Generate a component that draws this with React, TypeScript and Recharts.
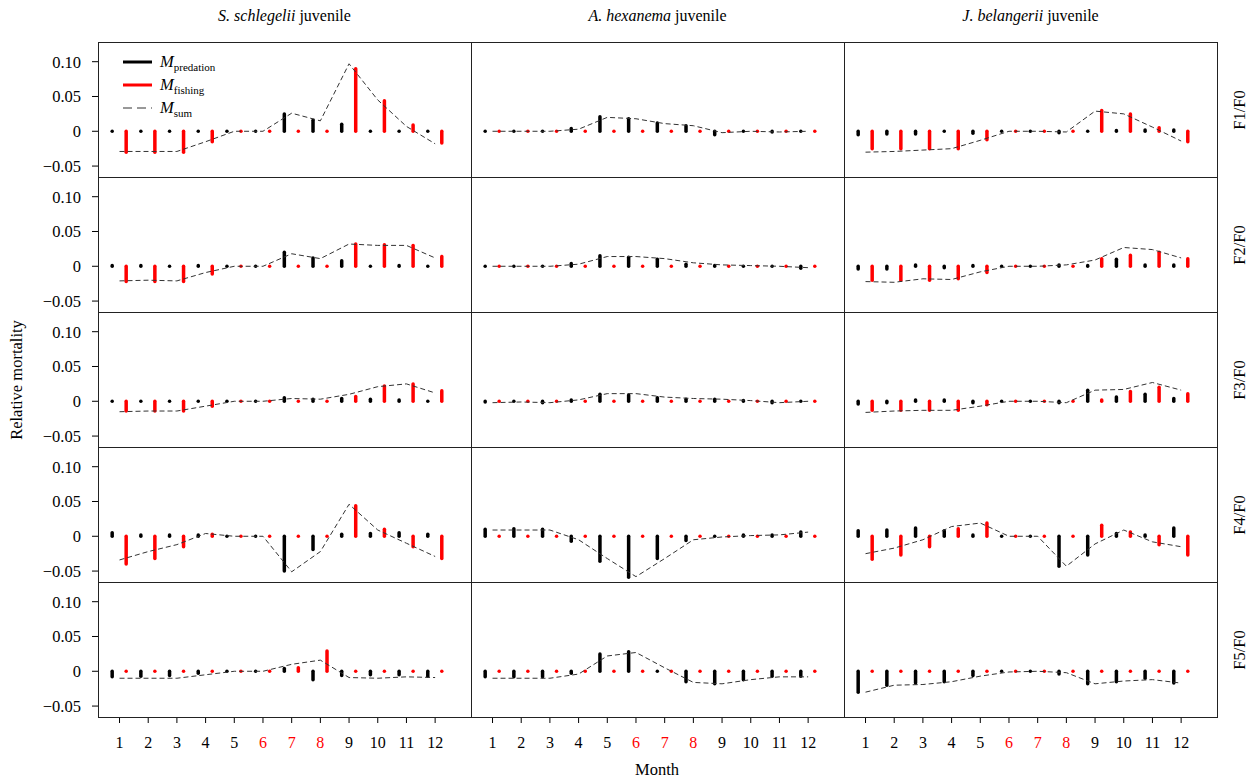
import { ComposedChart, Bar, Line, XAxis, YAxis } from 'recharts';

// months on the x axis, months 6-8 drawn in red
const months = [1, 2, 3, 4, 5, 6, 7, 8, 9, 10, 11, 12];
const redMonths = [6, 7, 8];
const yTicks = [-0.05, 0, 0.05, 0.1];
const ratios = ['F1/F0', 'F2/F0', 'F3/F0', 'F4/F0', 'F5/F0'];

// S. schlegelii juvenile, rows F1..F5
const schPred = [
  [0, 0, 0, 0, 0, 0, 0.025, 0.016, 0.01, 0, 0, 0],
  [0.001, 0.001, 0, 0.001, 0, 0, 0.02, 0.012, 0.008, 0, 0.001, 0],
  [0, 0, 0, 0, 0, 0, 0.005, 0.003, 0.004, 0.003, 0.002, 0],
  [0.005, 0.002, 0.002, 0.002, 0, 0, -0.05, -0.019, 0.003, 0.004, 0.005, 0.003],
  [-0.008, -0.007, -0.006, -0.003, 0, 0, 0.004, -0.012, -0.006, -0.005, -0.005, -0.007],
];
const schFish = [
  [-0.03, -0.03, -0.03, -0.015, 0, 0, 0, 0, 0.09, 0.044, 0.009, -0.017],
  [-0.022, -0.022, -0.022, -0.011, 0, 0, 0, 0, 0.032, 0.031, 0.03, 0.014],
  [-0.014, -0.014, -0.014, -0.007, 0, 0, 0, 0, 0.007, 0.022, 0.025, 0.015],
  [-0.04, -0.032, -0.015, 0.003, 0, 0, 0, 0, 0.044, 0.01, -0.015, -0.032],
  [0, 0, 0, 0, 0, 0, 0.005, 0.029, 0, 0, 0, 0],
];
const schSum = [
  [-0.029, -0.029, -0.029, -0.015, 0, 0, 0.026, 0.015, 0.097, 0.045, 0.007, -0.018],
  [-0.021, -0.02, -0.021, -0.009, 0, 0, 0.018, 0.011, 0.032, 0.03, 0.03, 0.012],
  [-0.015, -0.014, -0.014, -0.007, 0, 0, 0.004, 0.003, 0.01, 0.021, 0.025, 0.012],
  [-0.034, -0.022, -0.012, 0.004, 0, 0, -0.051, -0.022, 0.046, 0.009, -0.01, -0.029],
  [-0.01, -0.01, -0.01, -0.005, 0, 0, 0.01, 0.016, -0.009, -0.01, -0.008, -0.009],
];

// A. hexanema juvenile
const hexPred = [
  [0, 0, 0, 0.004, 0.021, 0.018, 0.012, 0.008, -0.005, 0, -0.001, 0],
  [0, 0, 0, 0.004, 0.015, 0.013, 0.01, 0.003, 0.001, 0, 0, -0.003],
  [-0.001, 0, -0.002, 0.002, 0.01, 0.009, 0.005, 0.003, 0.003, 0.001, -0.002, 0],
  [0.01, 0.011, 0.01, -0.007, -0.036, -0.059, -0.032, -0.006, 0, 0.002, 0.002, 0.006],
  [-0.008, -0.008, -0.008, -0.003, 0.025, 0.028, 0, -0.015, -0.018, -0.012, -0.007, -0.007],
];
const hexFish = [
  [0, 0, 0, 0, 0, 0, 0, 0, 0, 0, 0, 0],
  [0, 0, 0, 0, 0, 0, 0, 0, 0, 0, 0, 0],
  [0, 0, 0, 0, 0, 0, 0, 0, 0, 0, 0, 0],
  [0, 0, 0, 0, 0, 0, 0, 0, 0, 0, 0, 0],
  [0, 0, 0, 0, 0, 0, 0, 0, 0, 0, 0, 0],
];
const hexSum = [
  [0, 0, 0, 0.003, 0.02, 0.018, 0.011, 0.008, -0.002, 0, -0.001, 0],
  [0, 0, 0, 0.003, 0.014, 0.014, 0.011, 0.005, 0.002, 0.001, 0, -0.002],
  [-0.002, -0.001, -0.002, 0.002, 0.011, 0.011, 0.006, 0.004, 0.003, 0.001, -0.002, 0],
  [0.009, 0.009, 0.009, -0.005, -0.032, -0.058, -0.032, -0.005, -0.001, 0.001, 0.002, 0.006],
  [-0.01, -0.01, -0.01, -0.004, 0.022, 0.027, 0.005, -0.016, -0.018, -0.012, -0.008, -0.008],
];

// J. belangerii juvenile
const belPred = [
  [-0.005, -0.004, -0.004, 0, -0.003, 0, 0, -0.002, 0, 0.001, 0.002, 0.002],
  [-0.004, -0.004, 0.002, -0.002, 0.001, 0, 0, 0.002, 0.001, 0.01, 0.002, 0.002],
  [-0.004, -0.002, 0.002, 0.002, -0.002, 0, 0, -0.002, 0.016, 0.006, 0.01, 0.004],
  [0.008, 0.009, 0.012, 0.008, 0.002, 0, 0, -0.043, -0.027, 0.004, 0.002, 0.012],
  [-0.03, -0.02, -0.017, -0.015, -0.006, 0, 0, -0.004, -0.018, -0.015, -0.01, -0.017],
];
const belFish = [
  [-0.025, -0.025, -0.025, -0.025, -0.012, 0, 0, 0, 0.03, 0.025, 0.005, -0.015],
  [-0.02, -0.02, -0.02, -0.018, -0.009, 0, 0, 0, 0.011, 0.016, 0.02, 0.011],
  [-0.013, -0.013, -0.013, -0.013, -0.005, 0, 0, 0, 0.002, 0.014, 0.02, 0.011],
  [-0.033, -0.027, -0.015, 0.011, 0.019, 0, 0, 0, 0.016, 0.006, -0.012, -0.027],
  [0, 0, 0, 0, 0, 0, 0, 0, 0, 0, 0, 0],
];
const belSum = [
  [-0.03, -0.029, -0.027, -0.025, -0.013, 0, 0, -0.001, 0.029, 0.025, 0.006, -0.014],
  [-0.022, -0.023, -0.018, -0.019, -0.008, 0, 0, 0.002, 0.009, 0.027, 0.024, 0.012],
  [-0.016, -0.014, -0.013, -0.013, -0.007, 0, 0, -0.002, 0.016, 0.017, 0.027, 0.016],
  [-0.025, -0.017, -0.005, 0.014, 0.019, 0, 0, -0.043, -0.011, 0.009, -0.008, -0.015],
  [-0.03, -0.02, -0.019, -0.015, -0.007, -0.001, 0, -0.002, -0.018, -0.014, -0.012, -0.017],
];

const species = [
  { genus: 'S. schlegelii', pred: schPred, fish: schFish, sum: schSum },
  { genus: 'A. hexanema', pred: hexPred, fish: hexFish, sum: hexSum },
  { genus: 'J. belangerii', pred: belPred, fish: belFish, sum: belSum },
];

const FONT = '"Liberation Serif", "Times New Roman", serif';
const LEFT = 98;
const TOP = 42;
const PW = 373;
const PH = 135;
const YW = 60;
const XH = 45;

// bar drawn as a thick stick with round ends, like R's segments()
const Stick = (props: any) => {
  const { x, y, width, height, fill } = props;
  if (x == null || y == null) return null;
  const cx = x + width / 2;
  return (
    <line x1={cx} x2={cx} y1={y} y2={y + (height || 0)} stroke={fill}
      strokeWidth={3.5} strokeLinecap="round" />
  );
};

const MonthTick = (props: any) => {
  const { x, y, payload } = props;
  const v = payload.value;
  return (
    <text x={x} y={y} dy="0.71em" textAnchor="middle" fontSize={16} fontFamily={FONT}
      fill={redMonths.includes(v) ? '#ff0000' : '#000'}>
      {v}
    </text>
  );
};

const fmtY = (v: number) => (v === 0 ? '0' : v < 0 ? `−${Math.abs(v).toFixed(2)}` : v.toFixed(2));

function Panel({ r, c }: { r: number; c: number }) {
  const sp = species[c];
  const showY = c === 0;
  const showX = r === 4;
  const data = months.map((m, i) => ({
    month: m,
    pred: sp.pred[r][i],
    fish: sp.fish[r][i],
    sum: sp.sum[r][i],
  }));
  return (
    <div style={{ position: 'absolute', left: LEFT + c * PW - (showY ? YW : 0), top: TOP + r * PH }}>
      <ComposedChart width={PW + (showY ? YW : 0)} height={PH + (showX ? XH : 0)} data={data}
        margin={{ top: 0, right: 0, bottom: 0, left: 0 }} barGap={10}>
        <XAxis dataKey="month" type="number" domain={[0.25, 13.25]} ticks={months} allowDataOverflow
          hide={!showX} height={XH} axisLine={false} tickSize={6} tickMargin={14}
          tickLine={{ stroke: '#000' }} tick={<MonthTick />} interval={0} />
        <YAxis type="number" domain={[-0.0657, 0.1283]} ticks={yTicks} allowDataOverflow
          hide={!showY} width={YW} axisLine={false} tickSize={6} tickMargin={11}
          tickLine={{ stroke: '#000' }} tickFormatter={fmtY} interval={0}
          tick={{ fontSize: 16.5, fill: '#000', fontFamily: FONT }} />
        <Bar dataKey="pred" fill="#000000" barSize={4} shape={<Stick />} isAnimationActive={false} />
        <Bar dataKey="fish" fill="#ff0000" barSize={4} shape={<Stick />} isAnimationActive={false} />
        <Line dataKey="sum" type="linear" stroke="#333" strokeWidth={1} strokeDasharray="5 3"
          dot={false} activeDot={false} isAnimationActive={false} />
      </ComposedChart>
    </div>
  );
}

export default function App() {
  return (
    <div style={{ position: 'absolute', left: 0, top: 0, width: 1252, height: 783, background: '#fff', fontFamily: FONT, color: '#000' }}>
      {species.map((sp, c) => (
        <div key={sp.genus} style={{ position: 'absolute', left: LEFT + c * PW, width: PW, top: 7, textAlign: 'center', fontSize: 16 }}>
          <i>{sp.genus}</i> juvenile
        </div>
      ))}
      {ratios.map((lab, r) =>
        species.map((sp, c) => <Panel key={lab + sp.genus} r={r} c={c} />)
      )}
      {ratios.map((lab, r) =>
        species.map((sp, c) => (
          <div key={'f' + lab + c} style={{
            position: 'absolute', left: LEFT + c * PW, top: TOP + r * PH, width: PW + 1, height: PH + 1,
            border: '1px solid #222', boxSizing: 'border-box', pointerEvents: 'none',
          }} />
        ))
      )}
      {ratios.map((lab, r) => (
        <div key={lab} style={{
          position: 'absolute', left: 1240 - 40, top: TOP + r * PH + PH / 2 - 10, width: 80, height: 20,
          lineHeight: '20px', textAlign: 'center', fontSize: 16.5, transform: 'rotate(-90deg)',
        }}>{lab}</div>
      ))}
      <div style={{
        position: 'absolute', left: 17 - 80, top: 380 - 10, width: 160, height: 20, lineHeight: '20px',
        textAlign: 'center', fontSize: 16.5, transform: 'rotate(-90deg)',
      }}>Relative mortality</div>
      <div style={{ position: 'absolute', left: 657 - 60, width: 120, top: 760, textAlign: 'center', fontSize: 16.5 }}>Month</div>
      {/* legend */}
      <div style={{ position: 'absolute', left: 123, top: 50 }}>
        {[
          { sub: 'predation', color: '#000', dash: undefined, w: 3 },
          { sub: 'fishing', color: '#ff0000', dash: undefined, w: 3 },
          { sub: 'sum', color: '#333', dash: '9 5', w: 1 },
        ].map((it) => (
          <div key={it.sub} style={{ height: 23, display: 'flex', alignItems: 'center' }}>
            <svg width={30} height={10}>
              <line x1={0} x2={29} y1={5} y2={5} stroke={it.color} strokeWidth={it.w} strokeDasharray={it.dash} />
            </svg>
            <span style={{ marginLeft: 7, fontSize: 16.5, fontStyle: 'italic' }}>M</span>
            <span style={{ fontSize: 11, position: 'relative', top: 5 }}>{it.sub}</span>
          </div>
        ))}
      </div>
    </div>
  );
}
